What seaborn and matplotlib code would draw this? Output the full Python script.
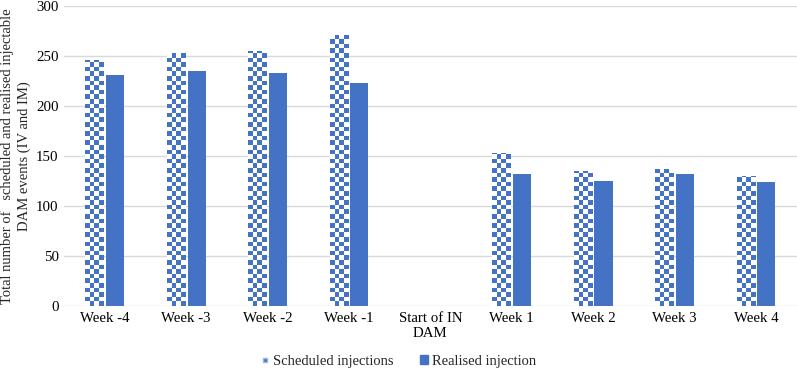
import numpy as np
import pandas as pd
import matplotlib
matplotlib.use("Agg")
import matplotlib.pyplot as plt
import seaborn as sns
from matplotlib.patches import Patch
from matplotlib.lines import Line2D

weeks = ["Week -4", "Week -3", "Week -2", "Week -1", "Start of IN\nDAM",
         "Week 1", "Week 2", "Week 3", "Week 4"]
scheduled = [246, 253, 255, 271, np.nan, 153, 135, 137, 130]
realised = [231, 235, 233, 223, np.nan, 132, 125, 132, 124]
series = ["Scheduled injections", "Realised injection"]

blue = "#4472C4"

df = pd.DataFrame({
    "week": weeks * 2,
    "series": [series[0]] * len(weeks) + [series[1]] * len(weeks),
    "value": scheduled + realised,
})

sns.set_theme(style="white")
plt.rcParams["font.family"] = ["Liberation Serif", "DejaVu Serif"]

fig = plt.figure(figsize=(7.97, 3.68), dpi=100)
ax = fig.add_axes([0.0805, 0.168, 0.919, 0.815])

sns.barplot(data=df, x="week", y="value", hue="series", order=weeks,
            hue_order=series, palette=[blue, blue], width=0.51, gap=0.13,
            saturation=1, ax=ax, legend=False, linewidth=0, errorbar=None)

ax.yaxis.grid(True, color="#d9d9d9", linewidth=1)
ax.set_axisbelow(True)
for s in ax.spines.values():
    s.set_visible(False)
ax.tick_params(axis="both", length=0, labelsize=10.7, colors="black", pad=4)
ax.set_xlabel("")
ax.set_ylabel("Total number of   scheduled and realised injectable\nDAM events (IV and IM)",
              fontsize=10.5, labelpad=4, linespacing=1.3)

# checkerboard fill on the scheduled bars (first container = scheduled)
cmap = matplotlib.colors.ListedColormap(["white", blue])
for p in ax.containers[0].patches:
    h = p.get_height()
    if not np.isfinite(h) or h <= 0:
        continue
    x0, w = p.get_x(), p.get_width()
    nrows = int(np.ceil(h / 4.6))
    board = np.add.outer(np.arange(nrows), np.arange(4)) % 2
    im = ax.imshow(board, cmap=cmap, extent=[x0, x0 + w, 0, nrows * 4.6],
                   origin="lower", interpolation="nearest", aspect="auto", zorder=3)
    im.set_clip_path(p)
    p.set_facecolor("white")

ax.set_xlim(-0.5, len(weeks) - 0.5)
ax.set_ylim(0, 300)
ax.set_yticks(range(0, 301, 50))

handles = [Line2D([], [], linestyle="none", marker="s", markersize=3,
                  markerfacecolor=blue, markeredgecolor="#9fb5e0"),
           Patch(facecolor=blue, edgecolor=blue)]
fig.legend(handles, series, loc="lower center", bbox_to_anchor=(0.5, -0.035), ncol=2,
           frameon=False, fontsize=10.5, handlelength=0.55, handleheight=0.55,
           handletextpad=0.3, columnspacing=1.8)

fig.savefig("out.png", dpi=100)
